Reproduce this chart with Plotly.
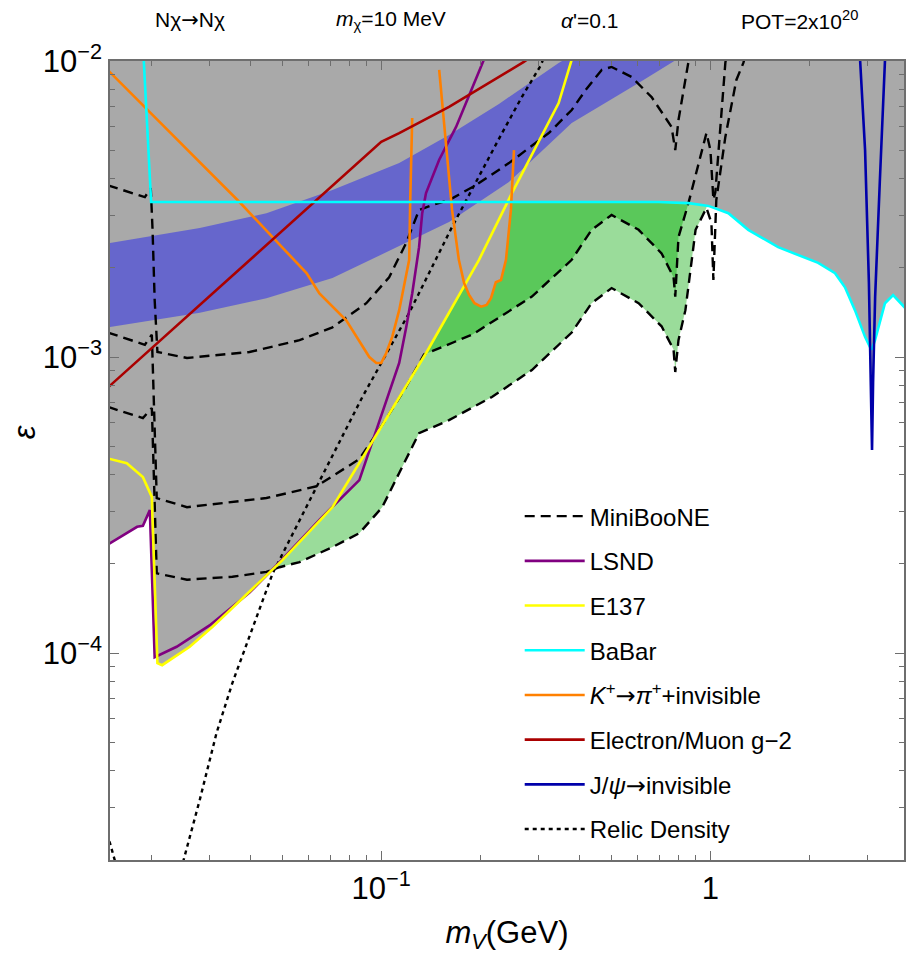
import numpy as np
import plotly.graph_objects as go

# ---------------------------------------------------------------------------
# Dark photon parameter space: vector mass m_V (GeV) vs kinetic mixing epsilon
# ---------------------------------------------------------------------------

# MiniBooNE sensitivity contours (three event-yield levels)
mb_top_m = [0.0148, 0.01914, 0.01995, 0.0202, 0.0205, 0.0209, 0.0257, 0.0398, 0.0565, 0.0711,
            0.0901, 0.1057, 0.1191, 0.1303, 0.1428, 0.1607, 0.1941, 0.2443, 0.3228, 0.3790,
            0.4178, 0.4674, 0.5010, 0.5761, 0.6627, 0.7620, 0.782, 0.7998, 0.8575, 0.865]
mb_top_eps = [3.8e-3, 3.47e-3, 3.72e-3, 2.69e-3, 1.56e-3, 1.04e-3, 9.93e-4, 1.04e-3, 1.14e-3, 1.26e-3,
              1.52e-3, 1.86e-3, 2.43e-3, 3.14e-3, 3.26e-3, 3.39e-3, 3.81e-3, 4.52e-3, 5.71e-3, 6.83e-3,
              7.98e-3, 9.33e-3, 9.55e-3, 8.83e-3, 7.55e-3, 5.99e-3, 5.00e-3, 6.32e-3, 9.93e-3, 1.05e-2]

mb_mid_m = [0.0148, 0.01914, 0.0201, 0.0204, 0.0208, 0.0257, 0.0448, 0.0636, 0.0858, 0.1007,
            0.1175, 0.1349, 0.1888, 0.2869, 0.3790, 0.4355, 0.5010, 0.6051, 0.7106, 0.7727,
            0.782, 0.7998, 0.8575, 0.9726, 1.000, 1.021, 1.035, 1.110, 1.12]
mb_mid_eps = [1.21e-3, 1.10e-3, 1.19e-3, 7.16e-4, 3.34e-4, 3.11e-4, 3.34e-4, 3.66e-4, 4.52e-4, 5.89e-4,
              7.74e-4, 1.02e-3, 1.19e-3, 1.60e-3, 2.13e-3, 2.69e-3, 3.02e-3, 2.69e-3, 2.24e-3, 1.86e-3,
              1.60e-3, 2.54e-3, 3.31e-3, 5.71e-3, 5.0e-3, 3.4e-3, 3.6e-3, 9.85e-3, 1.05e-2]

mb_low_m = [0.0148, 0.01888, 0.0201, 0.0204, 0.0208, 0.0257, 0.0353, 0.0448, 0.0491, 0.0565,
            0.0711, 0.0858, 0.1007, 0.1134, 0.1303, 0.1607, 0.2169, 0.2869, 0.3790, 0.4355,
            0.5010, 0.6051, 0.7106, 0.7727, 0.782, 0.7998, 0.8395, 0.9014, 0.9726, 1.007,
            1.021, 1.042, 1.110, 1.199, 1.259, 1.28]
mb_low_eps = [6.78e-4, 6.22e-4, 6.73e-4, 3.84e-4, 1.86e-4, 1.77e-4, 1.81e-4, 1.88e-4, 1.95e-4, 2.03e-4,
              2.28e-4, 2.54e-4, 3.11e-4, 4.06e-4, 5.53e-4, 6.12e-4, 7.33e-4, 9.04e-4, 1.21e-3, 1.52e-3,
              1.71e-3, 1.52e-3, 1.27e-3, 1.06e-3, 8.90e-4, 1.14e-3, 1.44e-3, 2.69e-3, 3.19e-3, 2.84e-3,
              1.82e-3, 3.39e-3, 5.54e-3, 8.63e-3, 9.85e-3, 1.05e-2]

# LSND
lsnd_m = [0.0148, 0.01813, 0.01888, 0.01982, 0.0205, 0.0239, 0.0301, 0.0398, 0.0491, 0.0649,
          0.0858, 0.1043, 0.1134, 0.1191, 0.1242, 0.1303, 0.1332, 0.1368, 0.1500, 0.1688,
          0.2052, 0.208]
lsnd_eps = [2.33e-4, 2.67e-4, 2.69e-4, 3.04e-4, 9.69e-5, 1.05e-4, 1.24e-4, 1.60e-4, 2.03e-4, 2.82e-4,
            3.84e-4, 7.32e-4, 9.55e-4, 1.26e-3, 1.64e-3, 2.35e-3, 3.06e-3, 3.58e-3, 4.64e-3, 5.99e-3,
            1.0e-2, 1.05e-2]

# E137
e137_m = [0.0148, 0.01687, 0.01888, 0.0201, 0.0202, 0.0209, 0.0216, 0.0262, 0.0308, 0.0501,
          0.0711, 0.1134, 0.1368, 0.1982, 0.2495, 0.3459, 0.3790, 0.383]
e137_eps = [4.54e-4, 4.38e-4, 3.93e-4, 3.37e-4, 2.81e-4, 9.24e-5, 9.10e-5, 1.05e-4, 1.23e-4, 2.06e-4,
            3.11e-4, 7.32e-4, 1.03e-3, 2.13e-3, 3.58e-3, 7.21e-3, 9.93e-3, 1.05e-2]

# BaBar mono-photon
babar_m = [0.0190, 0.0190, 0.0200, 0.4576, 0.6955, 0.8575, 0.9862, 1.134, 1.303, 1.606,
           2.125, 2.391, 2.563, 2.748, 2.949, 3.053, 3.09, 3.163, 3.390, 3.589, 3.873, 4.03]
babar_eps = [1.05e-2, 1.0e-2, 3.34e-3, 3.34e-3, 3.34e-3, 3.31e-3, 3.24e-3, 3.06e-3, 2.69e-3, 2.35e-3,
             2.08e-3, 1.92e-3, 1.72e-3, 1.44e-3, 1.17e-3, 1.08e-3, 1.06e-3, 1.14e-3, 1.52e-3, 1.62e-3,
             1.48e-3, 1.41e-3]

# K+ -> pi+ + invisible (two mass windows)
kpi_a_m = [0.0148, 0.0371, 0.0593, 0.0649, 0.0783, 0.0920, 0.0966, 0.1000, 0.1035, 0.1080,
           0.1134, 0.1216, 0.1225, 0.1242]
kpi_a_eps = [9.3e-3, 3.34e-3, 1.92e-3, 1.64e-3, 1.33e-3, 1.00e-3, 9.55e-4, 9.55e-4, 1.03e-3, 1.17e-3,
             1.44e-3, 2.13e-3, 3.39e-3, 6.42e-3]
kpi_b_m = [0.1500, 0.1585, 0.1641, 0.1721, 0.1785, 0.1849, 0.1920, 0.2011, 0.2090, 0.2155,
           0.2229, 0.2311, 0.2393, 0.2477, 0.2531]
kpi_b_eps = [9.33e-3, 4.64e-3, 3.14e-3, 2.13e-3, 1.78e-3, 1.62e-3, 1.52e-3, 1.48e-3, 1.50e-3, 1.58e-3,
             1.79e-3, 1.82e-3, 2.13e-3, 3.14e-3, 5.00e-3]

# Electron / muon g-2
g2_m = [0.0148, 0.1000, 0.1134, 0.1607, 0.2711, 0.2805]
g2_eps = [7.9e-4, 5.33e-3, 5.71e-3, 7.0e-3, 9.93e-3, 1.02e-2]

# J/psi -> invisible
jpsi_m = [2.85, 2.95, 3.03, 3.075, 3.097, 3.12, 3.165, 3.27, 3.39]
jpsi_eps = [1.0e-2, 5.0e-3, 1.78e-3, 8.2e-4, 4.85e-4, 8.2e-4, 1.6e-3, 3.9e-3, 1.0e-2]

# Relic density
relic_m = [0.0248, 0.0251, 0.0281, 0.0316, 0.0353, 0.0436, 0.0468, 0.0636, 0.0876, 0.1216,
           0.1641, 0.2328, 0.2673, 0.3055, 0.312]
relic_eps = [1.85e-5, 2.0e-5, 3.19e-5, 5.37e-5, 7.92e-5, 1.51e-4, 1.86e-4, 3.64e-4, 7.32e-4, 1.41e-3,
             2.75e-3, 5.71e-3, 7.55e-3, 9.68e-3, 1.03e-2]
relic_low_m = [0.0146, 0.0150, 0.0156]
relic_low_eps = [2.45e-5, 2.28e-5, 1.95e-5]

# Muon g-2 favoured band
band_m = [0.0148, 0.0281, 0.0448, 0.0711, 0.1134, 0.1607, 0.2278, 0.3459, 0.3715]
band_hi = [2.42e-3, 2.73e-3, 3.06e-3, 3.67e-3, 4.52e-3, 5.62e-3, 7.16e-3, 9.85e-3, 1.03e-2]
band_lo_m = [0.0148, 0.0281, 0.0448, 0.0711, 0.1134, 0.1607, 0.2443, 0.3790, 0.6051, 0.8575]
band_lo = [1.26e-3, 1.41e-3, 1.58e-3, 1.85e-3, 2.37e-3, 2.86e-3, 3.90e-3, 6.18e-3, 8.43e-3, 1.07e-2]

# ---------------------------------------------------------------------------
X_MIN, X_MAX = 0.0150, 3.873
Y_MIN, Y_MAX = 2e-5, 1e-2
CEIL = 1.06e-2          # just above the frame, used to close filled regions
M_THRESHOLD = 0.0207    # above 2 m_chi
M_PEAK_END = 0.98

GREY = "#A9A9A9"
LIGHT_GREEN = "#9ADC9A"
DARK_GREEN = "#5AC85A"
BAND_BLUE = "#6666CC"

ARROW = '<span style="font-family:DejaVu Sans">→</span>'


def above(m, eps):
    """Polygon for the region above a curve, closed along the top of the frame."""
    m, eps = list(m), list(eps)
    return m + [m[-1], m[0]], eps + [CEIL, CEIL]


def window(m, eps, lo, hi):
    pts = [(a, b) for a, b in zip(m, eps) if lo <= a <= hi]
    return [a for a, _ in pts], [b for _, b in pts]


fig = go.Figure()


def fill(xs, ys, color):
    fig.add_trace(go.Scatter(x=xs, y=ys, mode="lines", fill="toself", fillcolor=color,
                             line=dict(width=0, color=color), hoverinfo="skip", showlegend=False))


# MiniBooNE reach: light green (lowest contour), dark green (middle contour)
fill(*above(*window(mb_low_m, mb_low_eps, M_THRESHOLD, M_PEAK_END)), LIGHT_GREEN)
fill(*above(*window(mb_mid_m, mb_mid_eps, M_THRESHOLD, M_PEAK_END)), DARK_GREEN)

# Excluded region: union of areas above each existing constraint
for cm, ce in [(lsnd_m, lsnd_eps), (e137_m, e137_eps), (kpi_a_m, kpi_a_eps),
               (kpi_b_m, kpi_b_eps), (babar_m, babar_eps), (jpsi_m, jpsi_eps)]:
    fill(*above(cm, ce), GREY)

# g-2 favoured band
fill(band_m + band_lo_m[::-1], band_hi + band_lo[::-1], BAND_BLUE)


def curve(m, eps, color, name, rank, dash="solid", width=2.6, legend=True):
    fig.add_trace(go.Scatter(x=m, y=eps, mode="lines", name=name,
                             line=dict(color=color, width=width, dash=dash),
                             legendgroup=name, showlegend=legend, legendrank=rank,
                             hoverinfo="skip"))


DASH = "10px,6px"
DOT = "4px,4px"
KPI_NAME = "<i>K</i><sup>+</sup>" + ARROW + "<i>π</i><sup>+</sup>+invisible"
curve(mb_top_m, mb_top_eps, "black", "MiniBooNE", 1, DASH, 2.4)
curve(mb_mid_m, mb_mid_eps, "black", "MiniBooNE", 1, DASH, 2.4, legend=False)
curve(mb_low_m, mb_low_eps, "black", "MiniBooNE", 1, DASH, 2.4, legend=False)
curve(relic_m, relic_eps, "black", "Relic Density", 8, DOT, 2.4)
curve(relic_low_m, relic_low_eps, "black", "Relic Density", 8, DOT, 2.4, legend=False)
curve(lsnd_m, lsnd_eps, "#800080", "LSND", 2)
curve(e137_m, e137_eps, "#FFFF00", "E137", 3)
curve(kpi_a_m, kpi_a_eps, "#FF8000", KPI_NAME, 5)
curve(kpi_b_m, kpi_b_eps, "#FF8000", KPI_NAME, 5, legend=False)
curve(g2_m, g2_eps, "#AA0000", "Electron/Muon g−2", 6)
curve(babar_m, babar_eps, "#00FFFF", "BaBar", 4)
curve(jpsi_m, jpsi_eps, "#0000AA", "J/<i>ψ</i>" + ARROW + "invisible", 7)

# ---------------------------------------------------------------------------
FONT = "Liberation Sans, Arial, Helvetica, sans-serif"
AXIS_COL = "#6E6E6E"

x_minor = [k * 10.0 ** d for d in (-2, -1, 0) for k in range(2, 10)]
y_minor = [k * 10.0 ** d for d in (-5, -4, -3) for k in range(2, 10)]

fig.update_xaxes(
    type="log", range=[np.log10(X_MIN), np.log10(X_MAX)],
    tickvals=[0.1, 1], ticktext=["10<sup>−1</sup>", "1"], tickfont=dict(size=31),
    ticks="inside", ticklen=9, tickwidth=1.3, tickcolor=AXIS_COL,
    minor=dict(ticks="inside", ticklen=5, tickwidth=1.1, tickcolor=AXIS_COL,
               tickvals=x_minor, showgrid=False),
    showline=True, linecolor=AXIS_COL, linewidth=1.6, mirror="allticks",
    showgrid=False, zeroline=False,
    title=dict(text="<i>m</i><sub><i>V</i></sub>(GeV)", font=dict(size=31), standoff=16),
)
fig.update_yaxes(
    type="log", range=[np.log10(Y_MIN), np.log10(Y_MAX)],
    tickvals=[1e-4, 1e-3, 1e-2], ticktext=["10<sup>−4</sup>", "10<sup>−3</sup>", "10<sup>−2</sup>"],
    tickfont=dict(size=31),
    ticks="inside", ticklen=9, tickwidth=1.3, tickcolor=AXIS_COL,
    minor=dict(ticks="inside", ticklen=5, tickwidth=1.1, tickcolor=AXIS_COL,
               tickvals=y_minor, showgrid=False),
    showline=True, linecolor=AXIS_COL, linewidth=1.6, mirror="allticks",
    showgrid=False, zeroline=False,
)

# y-axis label, placed in pixels left of the tick labels
fig.add_annotation(text="<i>ε</i>", xref="paper", yref="paper",
                   x=(24 - 110) / 796, y=(860 - 432) / 799, textangle=-90,
                   showarrow=False, xanchor="center", yanchor="middle",
                   font=dict(size=31))

header = [("Nχ" + ARROW + "Nχ", 0.1005), ("<i>m</i><sub>χ</sub>=10 MeV", 0.354),
          ("<i>α</i>'=0.1", 0.604), ("POT=2x10<sup>20</sup>", 0.869)]
for text, xp in header:
    fig.add_annotation(text=text, x=xp, y=1.051, xref="paper", yref="paper",
                       showarrow=False, xanchor="center", yanchor="middle",
                       font=dict(size=21, family="Liberation Sans Narrow, " + FONT))

fig.update_layout(
    width=906, height=955,
    margin=dict(l=110, r=0, t=61, b=95),
    plot_bgcolor="white", paper_bgcolor="white",
    font=dict(family=FONT, color="black"),
    legend=dict(x=0.516, y=0.458, xanchor="left", yanchor="top",
                bgcolor="rgba(0,0,0,0)", font=dict(size=24),
                tracegroupgap=10.5, itemwidth=60),
)

fig.write_html("out.html")
